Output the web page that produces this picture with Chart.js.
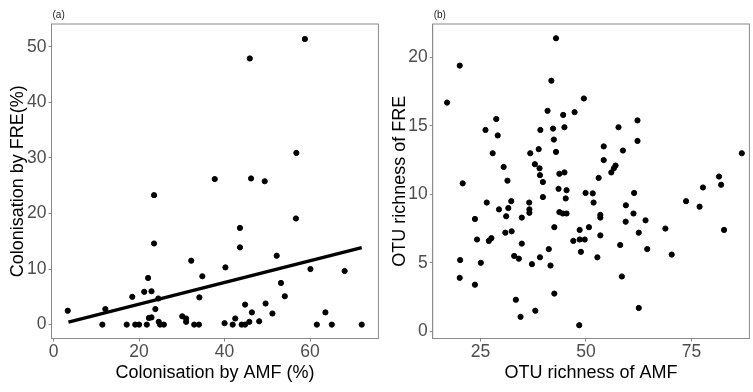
<!DOCTYPE html>
<html lang="en">
<head>
  <meta charset="UTF-8">
  <title>AMF vs FRE colonisation</title>
  <script src="https://cdn.jsdelivr.net/npm/chart.js"></script>
  <style>
    html, body { margin: 0; padding: 0; background: #fff; }
    body { width: 753px; height: 392px; position: relative; overflow: hidden; }
    canvas { position: absolute; top: 0; }
    #chartA { left: 0; }
    #chartB { left: 382px; }
  </style>
</head>
<body>
  <canvas id="chartA" width="382" height="392"></canvas>
  <canvas id="chartB" width="371" height="392"></canvas>
  <script>
    // (a) colonisation, AMF % vs FRE %
    const amfColA = [3.3, 11.4, 12.1, 17.1, 18.4, 19.1, 20.0, 21.2, 21.8, 22.1, 22.3, 22.9, 22.9, 23.5, 23.5, 23.8, 24.5, 24.6, 24.9, 25.8,
      30.1, 31.0, 31.0, 32.2, 32.9, 34.0, 34.1, 34.8, 37.7, 40.0, 40.2, 41.9, 42.5, 43.6, 43.6, 44.0, 44.8, 44.8, 45.8, 45.9,
      46.2, 46.4, 48.1, 49.4, 49.6, 51.2, 52.2, 53.2, 54.1, 56.7, 56.8, 58.8, 60.1, 61.6, 63.6, 65.1, 68.1, 72.1];
    const freColA = [2.5, 0, 2.8, 0, 5.0, 0, 0, 5.9, 0, 8.4, 1.2, 1.3, 6.0, 23.3, 14.6, 2.8, 4.7, 0.5, 0, 0,
      1.5, 1.1, 0.5, 11.5, 0, 0, 4.9, 8.7, 26.2, 0.25, 10.3, 0, 1.1, 17.4, 13.9, 0, 0, 3.6, 0.5, 47.9,
      26.3, 2.2, 0.6, 25.8, 3.8, 2.0, 12.4, 7.5, 5.1, 19.1, 30.9, 51.4, 10.0, 0, 2.2, 0, 9.65, 0];
    const fitXA = [3.46, 72.1];
    const fitYA = [0.43, 13.85];
    const xTicksA = [0, 20, 40, 60];
    const yTicksA = [0, 10, 20, 30, 40, 50];

    // (b) OTU richness, AMF vs FRE
    const amfOtuB = [17.1, 20.1, 20.8, 20.2, 20.1, 23.7, 23.7, 24.2, 25.1, 26.2, 26.5, 27.0, 27.6, 27.9, 28.75, 29.1, 29.4, 30.5, 30.9, 31.1,
      31.4, 31.6, 32.3, 32.4, 33.0, 33.4, 34.1, 34.5, 34.8, 34.8, 36.55, 36.6, 36.6, 36.8, 37.2, 37.9, 38.0, 38.8, 39.0, 39.1,
      39.1, 39.2, 39.8, 39.8, 40.9, 41.2, 41.6, 41.8, 42.2, 42.4, 42.5, 42.5, 42.9, 42.9, 43.5, 43.7, 43.7, 44.5, 44.6, 44.9,
      44.9, 45.2, 45.4, 45.4, 47.0, 47.3, 48.4, 48.5, 48.5, 48.8, 49.5, 49.7, 49.9, 50.7, 51.6, 51.8, 52.7, 53.0, 53.4, 53.4,
      53.4, 54.2, 54.2, 56.0, 56.6, 57.0, 57.7, 58.1, 58.5, 58.75, 59.4, 59.45, 61.25, 61.4, 62.2, 62.2, 62.5, 62.5, 64.1, 64.5,
      68.8, 70.3, 73.7, 76.9, 77.7, 81.5, 82.0, 82.7, 86.9];
    const freOtuB = [16.7, 19.4, 10.8, 5.2, 3.9, 8.2, 3.4, 6.7, 5.0, 14.7, 9.4, 6.6, 6.8, 13.0, 15.5, 14.3, 8.9, 12.0, 7.2, 8.4,
      11.0, 9.0, 9.5, 7.3, 5.5, 2.3, 5.3, 1.05, 8.3, 6.4, 9.4, 8.9, 8.65, 13.0, 4.9, 12.2, 1.5, 13.3, 11.9, 11.4,
      5.4, 14.7, 10.9, 9.8, 16.1, 6.0, 4.8, 18.3, 14.8, 14.0, 7.6, 2.75, 21.4, 13.1, 10.4, 11.5, 8.7, 8.6, 15.8, 14.9,
      11.6, 9.7, 10.3, 8.6, 6.6, 16.0, 0.44, 7.4, 6.7, 5.8, 17.0, 6.7, 10.1, 7.6, 10.07, 9.4, 5.4, 11.2, 8.5, 8.3,
      7.0, 13.5, 12.5, 11.6, 11.9, 12.1, 14.9, 6.3, 4.0, 13.2, 8.0, 9.2, 8.6, 10.1, 15.4, 13.9, 7.2, 1.7, 8.1, 6.0,
      7.5, 5.6, 9.5, 9.1, 10.5, 11.3, 10.7, 7.4, 13.0];
    const xTicksB = [25, 50, 75];
    const yTicksB = [0, 5, 10, 15, 20];

    const FONT = "'Liberation Sans', Arial, sans-serif";
    const GREY = '#8a8a8a';

    function pairs(xs, ys) {
      return xs.map((x, i) => ({ x: x, y: ys[i] }));
    }

    // frame around the panel + small panel tag
    const panelFrame = {
      id: 'panelFrame',
      afterDraw(chart, args, opts) {
        const { ctx, chartArea: a } = chart;
        ctx.save();
        ctx.strokeStyle = GREY;
        ctx.lineWidth = 1;
        ctx.strokeRect(a.left, a.top, a.right - a.left, a.bottom - a.top);
        ctx.fillStyle = '#222';
        ctx.font = '10px ' + FONT;
        ctx.textBaseline = 'middle';
        ctx.textAlign = 'left';
        ctx.fillText(opts.tag, a.left + 1, 15);
        ctx.restore();
      }
    };

    function axis(cfg) {
      return {
        type: 'linear',
        min: cfg.min,
        max: cfg.max,
        afterBuildTicks: s => { s.ticks = cfg.ticks.map(v => ({ value: v })); },
        afterFit: s => {
          if (cfg.width !== undefined) s.width = cfg.width;
          if (cfg.height !== undefined) s.height = cfg.height;
        },
        grid: { drawOnChartArea: false, drawTicks: true, tickLength: 3, color: GREY },
        border: { display: true, color: GREY, width: 1 },
        ticks: { color: '#4d4d4d', font: { family: FONT, size: 17.5 }, padding: cfg.pad },
        title: {
          display: true,
          text: cfg.title,
          color: '#000',
          font: { family: FONT, size: 18 },
          padding: cfg.titlePad
        }
      };
    }

    function makeChart(id, tag, points, line, xa, ya, padRight) {
      const datasets = [];
      if (line) {
        datasets.push({
          type: 'line',
          data: line,
          borderColor: '#000',
          borderWidth: 3.3,
          pointRadius: 0,
          order: 0
        });
      }
      datasets.push({
        type: 'scatter',
        data: points,
        backgroundColor: '#000',
        borderColor: '#000',
        pointRadius: 2.6,
        pointHoverRadius: 2.6,
        order: 1
      });
      return new Chart(document.getElementById(id), {
        type: 'scatter',
        data: { datasets: datasets },
        options: {
          responsive: false,
          animation: false,
          devicePixelRatio: 1,
          layout: { padding: { top: 24, right: padRight, left: 0, bottom: 0 } },
          plugins: { legend: { display: false }, tooltip: { enabled: false }, panelFrame: { tag: tag } },
          scales: { x: axis(xa), y: axis(ya) }
        },
        plugins: [panelFrame]
      });
    }

    makeChart('chartA', '(a)', pairs(amfColA, freColA), pairs(fitXA, fitYA),
      { min: -0.5, max: 76, ticks: xTicksA, height: 53.5, pad: 0, title: 'Colonisation by AMF (%)', titlePad: { top: 0, bottom: 8 } },
      { min: -2.5, max: 54.1, ticks: yTicksA, width: 51.5, pad: 2, title: 'Colonisation by FRE(%)', titlePad: { top: 7, bottom: 0 } },
      2.5);

    makeChart('chartB', '(b)', pairs(amfOtuB, freOtuB), null,
      { min: 13.7, max: 88.7, ticks: xTicksB, height: 53.5, pad: 0, title: 'OTU richness of AMF', titlePad: { top: 0, bottom: 8 } },
      { min: -0.53, max: 22.44, ticks: yTicksB, width: 50.7, pad: 2, title: 'OTU richness of FRE', titlePad: { top: 7.5, bottom: 0 } },
      0.5);
  </script>
</body>
</html>
